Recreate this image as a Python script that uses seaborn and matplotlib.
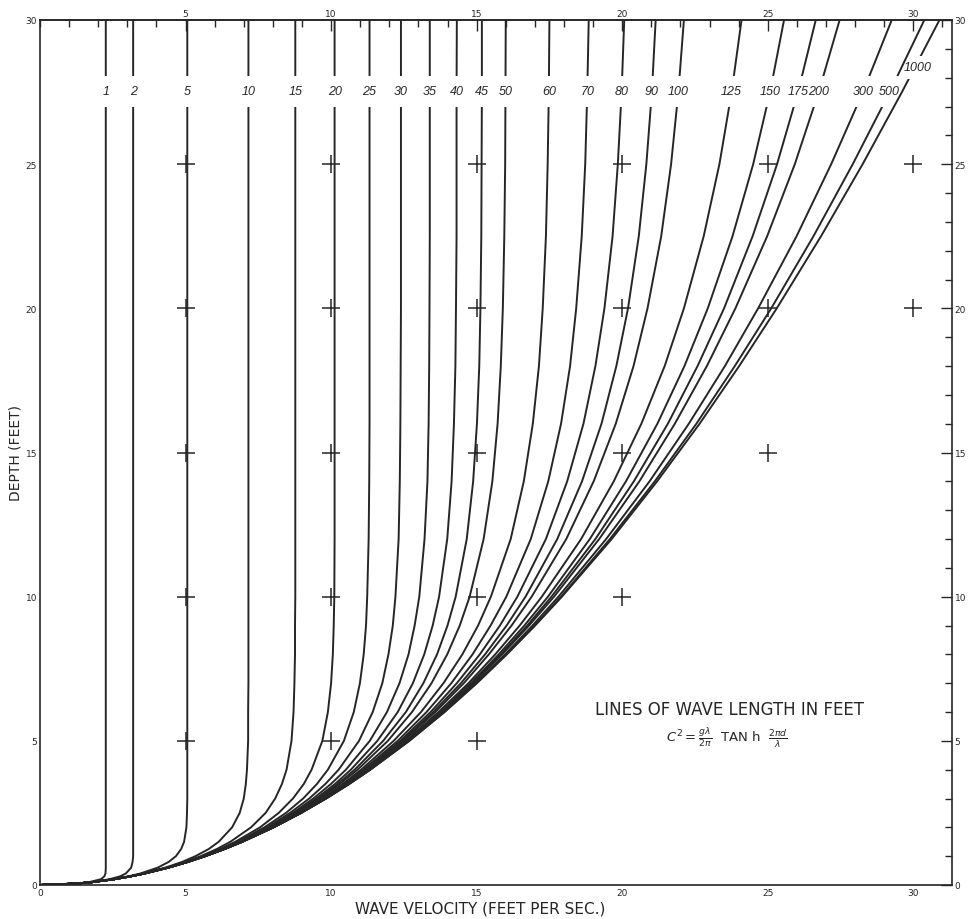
import numpy as np
import pandas as pd
import seaborn as sns
import matplotlib
matplotlib.use("Agg")
import matplotlib.pyplot as plt
from matplotlib.path import Path
from matplotlib.ticker import MultipleLocator

DEPTH = [0, 0.05, 0.1, 0.2, 0.3, 0.4, 0.6, 0.8, 1, 1.25, 1.5, 2, 2.5, 3, 3.5, 4,
         5, 6, 7, 8, 9, 10, 12, 14, 16, 18, 20, 22.5, 25, 27.5, 30]

WAVE_LENGTHS = [1, 2, 5, 10, 15, 20, 25, 30, 35, 40, 45, 50, 60, 70, 80, 90, 100,
                125, 150, 175, 200, 300, 500, 1000]

# wave velocity (ft/s), one row per wave length, one value per DEPTH
VELOCITY = [
    [0, 1.25, 1.69, 2.09, 2.21, 2.25, 2.26, 2.26, 2.26, 2.26, 2.26, 2.26, 2.26, 2.26, 2.26, 2.26,
     2.26, 2.26, 2.26, 2.26, 2.26, 2.26, 2.26, 2.26, 2.26, 2.26, 2.26, 2.26, 2.26, 2.26, 2.26],
    [0, 1.26, 1.77, 2.39, 2.75, 2.95, 3.13, 3.18, 3.20, 3.20, 3.20, 3.20, 3.20, 3.20, 3.20, 3.20,
     3.20, 3.20, 3.20, 3.20, 3.20, 3.20, 3.20, 3.20, 3.20, 3.20, 3.20, 3.20, 3.20, 3.20, 3.20],
    [0, 1.27, 1.79, 2.51, 3.04, 3.45, 4.04, 4.42, 4.67, 4.85, 4.95, 5.03, 5.05, 5.06, 5.06, 5.06,
     5.06, 5.06, 5.06, 5.06, 5.06, 5.06, 5.06, 5.06, 5.06, 5.06, 5.06, 5.06, 5.06, 5.06, 5.06],
    [0, 1.27, 1.79, 2.53, 3.09, 3.55, 4.30, 4.88, 5.34, 5.80, 6.14, 6.60, 6.86, 7.00, 7.07, 7.11,
     7.15, 7.15, 7.16, 7.16, 7.16, 7.16, 7.16, 7.16, 7.16, 7.16, 7.16, 7.16, 7.16, 7.16, 7.16],
    [0, 1.27, 1.79, 2.53, 3.10, 3.57, 4.35, 4.98, 5.52, 6.08, 6.54, 7.25, 7.75, 8.08, 8.31, 8.47,
     8.64, 8.71, 8.74, 8.76, 8.76, 8.77, 8.77, 8.77, 8.77, 8.77, 8.77, 8.77, 8.77, 8.77, 8.77],
    [0, 1.27, 1.79, 2.54, 3.10, 3.58, 4.37, 5.02, 5.58, 6.19, 6.71, 7.56, 8.20, 8.69, 9.06, 9.33,
     9.70, 9.89, 10.00, 10.06, 10.09, 10.11, 10.12, 10.12, 10.12, 10.12, 10.12, 10.12, 10.12, 10.12, 10.12],
    [0, 1.27, 1.79, 2.54, 3.11, 3.58, 4.38, 5.04, 5.62, 6.24, 6.79, 7.71, 8.45, 9.04, 9.51, 9.89,
     10.44, 10.78, 10.99, 11.12, 11.20, 11.24, 11.29, 11.31, 11.32, 11.32, 11.32, 11.32, 11.32, 11.32, 11.32],
    [0, 1.27, 1.79, 2.54, 3.11, 3.58, 4.38, 5.05, 5.63, 6.27, 6.84, 7.80, 8.59, 9.25, 9.80, 10.26,
     10.96, 11.43, 11.76, 11.97, 12.12, 12.21, 12.32, 12.36, 12.38, 12.39, 12.40, 12.40, 12.40, 12.40, 12.40],
    [0, 1.27, 1.79, 2.54, 3.11, 3.59, 4.39, 5.06, 5.64, 6.29, 6.87, 7.86, 8.69, 9.39, 9.99, 10.51,
     11.33, 11.92, 12.35, 12.66, 12.87, 13.03, 13.21, 13.31, 13.35, 13.37, 13.38, 13.39, 13.39, 13.39, 13.39],
    [0, 1.27, 1.79, 2.54, 3.11, 3.59, 4.39, 5.06, 5.65, 6.30, 6.89, 7.90, 8.75, 9.49, 10.13, 10.68,
     11.59, 12.29, 12.81, 13.20, 13.49, 13.71, 13.99, 14.14, 14.22, 14.27, 14.29, 14.31, 14.31, 14.31, 14.32],
    [0, 1.27, 1.79, 2.54, 3.11, 3.59, 4.39, 5.06, 5.66, 6.31, 6.90, 7.92, 8.80, 9.56, 10.22, 10.81,
     11.79, 12.57, 13.17, 13.64, 14.00, 14.28, 14.66, 14.88, 15.01, 15.09, 15.13, 15.16, 15.17, 15.18, 15.18],
    [0, 1.27, 1.79, 2.54, 3.11, 3.59, 4.39, 5.07, 5.66, 6.32, 6.91, 7.94, 8.83, 9.61, 10.29, 10.91,
     11.95, 12.78, 13.45, 13.99, 14.42, 14.76, 15.24, 15.54, 15.72, 15.83, 15.90, 15.95, 15.98, 15.99, 16.00],
    [0, 1.27, 1.79, 2.54, 3.11, 3.59, 4.39, 5.07, 5.66, 6.33, 6.92, 7.97, 8.87, 9.67, 10.39, 11.03,
     12.15, 13.09, 13.86, 14.51, 15.05, 15.49, 16.17, 16.62, 16.93, 17.14, 17.27, 17.38, 17.44, 17.48, 17.50],
    [0, 1.27, 1.79, 2.54, 3.11, 3.59, 4.39, 5.07, 5.67, 6.33, 6.93, 7.98, 8.90, 9.71, 10.45, 11.11,
     12.29, 13.28, 14.13, 14.86, 15.48, 16.02, 16.86, 17.46, 17.90, 18.21, 18.42, 18.61, 18.73, 18.80, 18.85],
    [0, 1.27, 1.79, 2.54, 3.11, 3.59, 4.39, 5.07, 5.67, 6.33, 6.93, 7.99, 8.92, 9.74, 10.49, 11.17,
     12.38, 13.42, 14.32, 15.11, 15.80, 16.40, 17.38, 18.11, 18.67, 19.08, 19.39, 19.67, 19.85, 19.98, 20.07],
    [0, 1.27, 1.79, 2.54, 3.11, 3.59, 4.39, 5.07, 5.67, 6.34, 6.94, 8.00, 8.93, 9.76, 10.51, 11.21,
     12.44, 13.51, 14.46, 15.29, 16.03, 16.68, 17.77, 18.62, 19.29, 19.80, 20.20, 20.57, 20.83, 21.02, 21.15],
    [0, 1.27, 1.79, 2.54, 3.11, 3.59, 4.39, 5.07, 5.67, 6.34, 6.94, 8.00, 8.94, 9.77, 10.53, 11.23,
     12.49, 13.58, 14.56, 15.42, 16.20, 16.89, 18.08, 19.02, 19.78, 20.39, 20.87, 21.34, 21.68, 21.93, 22.12],
    [0, 1.27, 1.79, 2.54, 3.11, 3.59, 4.39, 5.07, 5.67, 6.34, 6.94, 8.01, 8.95, 9.79, 10.56, 11.27,
     12.56, 13.69, 14.72, 15.64, 16.48, 17.24, 18.59, 19.71, 20.66, 21.46, 22.12, 22.80, 23.34, 23.76, 24.10],
    [0, 1.27, 1.79, 2.54, 3.11, 3.59, 4.39, 5.07, 5.67, 6.34, 6.95, 8.02, 8.96, 9.80, 10.58, 11.30,
     12.60, 13.76, 14.80, 15.76, 16.64, 17.45, 18.89, 20.13, 21.21, 22.14, 22.94, 23.79, 24.50, 25.08, 25.56],
    [0, 1.27, 1.79, 2.54, 3.11, 3.59, 4.40, 5.07, 5.67, 6.34, 6.95, 8.02, 8.96, 9.81, 10.59, 11.31,
     12.62, 13.79, 14.86, 15.83, 16.74, 17.57, 19.08, 20.40, 21.57, 22.59, 23.50, 24.48, 25.32, 26.04, 26.65],
    [0, 1.27, 1.79, 2.54, 3.11, 3.59, 4.40, 5.07, 5.67, 6.34, 6.95, 8.02, 8.96, 9.81, 10.59, 11.32,
     12.64, 13.82, 14.89, 15.88, 16.80, 17.66, 19.21, 20.59, 21.81, 22.91, 23.89, 24.98, 25.93, 26.75, 27.47],
    [0, 1.27, 1.79, 2.54, 3.11, 3.59, 4.40, 5.08, 5.67, 6.34, 6.95, 8.02, 8.97, 9.82, 10.61, 11.34,
     12.67, 13.86, 14.96, 15.98, 16.92, 17.81, 19.45, 20.94, 22.29, 23.53, 24.67, 25.99, 27.18, 28.27, 29.26],
    [0, 1.27, 1.79, 2.54, 3.11, 3.59, 4.40, 5.08, 5.67, 6.34, 6.95, 8.02, 8.97, 9.83, 10.61, 11.34,
     12.68, 13.89, 14.99, 16.02, 16.99, 17.90, 19.58, 21.12, 22.55, 23.87, 25.12, 26.57, 27.92, 29.19, 30.38],
    [0, 1.27, 1.79, 2.54, 3.11, 3.59, 4.40, 5.08, 5.67, 6.34, 6.95, 8.02, 8.97, 9.83, 10.62, 11.35,
     12.69, 13.90, 15.01, 16.04, 17.01, 17.93, 19.64, 21.20, 22.66, 24.02, 25.31, 26.83, 28.26, 29.61, 30.90],
]

# registration crosses printed on the chart
CROSS_X = [5, 5, 5, 5, 5, 10, 10, 10, 10, 10, 15, 15, 15, 15, 15,
           20, 20, 20, 20, 25, 25, 25, 30, 30]
CROSS_Y = [5, 10, 15, 20, 25, 5, 10, 15, 20, 25, 5, 10, 15, 20, 25,
           10, 15, 20, 25, 15, 20, 25, 20, 25]

records = []
for lam, vel in zip(WAVE_LENGTHS, VELOCITY):
    assert len(vel) == len(DEPTH), lam
    for d, c in zip(DEPTH, vel):
        records.append((lam, d, c))
df = pd.DataFrame(records, columns=["wave_length", "depth", "velocity"])
crosses = pd.DataFrame({"x": CROSS_X, "y": CROSS_Y})

sns.set_style("white")
plt.rcParams["font.family"] = ["DejaVu Sans"]
plt.rcParams["mathtext.fontset"] = "dejavusans"

INK = "#262626"

fig = plt.figure(figsize=(9.7, 9.2), dpi=100)
ax = fig.add_axes([40 / 970, 34 / 920, 912 / 970, 865 / 920])


def gap_clip(lo, hi):
    # everything except the horizontal strip lo..hi (room for the label)
    verts = [(-5, -5), (40, -5), (40, lo), (-5, lo), (-5, -5),
             (-5, hi), (40, hi), (40, 40), (-5, 40), (-5, hi)]
    codes = [Path.MOVETO, Path.LINETO, Path.LINETO, Path.LINETO, Path.CLOSEPOLY] * 2
    return Path(verts, codes)


label_font = dict(fontsize=9, style="italic", color=INK, ha="center", va="center",
                  family=["Liberation Sans", "DejaVu Sans"])
label_row = DEPTH.index(27.5)
for lam, vel in zip(WAVE_LENGTHS, VELOCITY):
    sub = df[df["wave_length"] == lam]
    sns.lineplot(data=sub, x="velocity", y="depth", sort=False, estimator=None,
                 color=INK, linewidth=1.4, ax=ax)
    line = ax.lines[-1]
    if lam == 1000:
        line.set_clip_path(gap_clip(27.95, 28.75), ax.transData)
        ax.text(30.15, 28.38, str(lam), **label_font)
    else:
        line.set_clip_path(gap_clip(27.0, 28.05), ax.transData)
        ax.text(vel[label_row], 27.53, str(lam), **label_font)

sns.scatterplot(data=crosses, x="x", y="y", marker="+", s=150, linewidth=1.1,
                color=INK, ax=ax, zorder=3)

ax.set_xlim(0, 31.33)
ax.set_ylim(0, 30)
ax.xaxis.set_major_locator(MultipleLocator(5))
ax.xaxis.set_minor_locator(MultipleLocator(1))
ax.yaxis.set_major_locator(MultipleLocator(5))
ax.yaxis.set_minor_locator(MultipleLocator(1))
ax.tick_params(which="both", direction="in", top=False, right=True, labelright=True,
               colors=INK, labelsize=6.5, width=1)
ax.tick_params(which="major", length=8, pad=2)
ax.tick_params(which="minor", length=5)

top = ax.secondary_xaxis("top")
top.set_xticks([5, 10, 15, 20, 25, 30])
top.xaxis.set_minor_locator(MultipleLocator(1))
top.tick_params(which="both", direction="in", colors=INK, labelsize=6.5, width=1)
top.tick_params(which="major", length=8, pad=1.5)
top.tick_params(which="minor", length=5)
top.spines["top"].set_linewidth(1.2)
top.spines["top"].set_color(INK)

for side in ax.spines.values():
    side.set_linewidth(1.2)
    side.set_color(INK)

ax.set_xlabel("WAVE VELOCITY (FEET PER SEC.)", fontsize=11, color=INK)
ax.xaxis.set_label_coords(0.4825, -0.018)
ax.set_ylabel("DEPTH (FEET)", fontsize=10, color=INK)
ax.yaxis.set_label_coords(-0.019, 0.5)

ax.text(23.7, 6.1, "LINES OF WAVE LENGTH IN FEET", fontsize=12, color=INK,
        ha="center", va="center")
ax.text(23.6, 5.15, r"$C^2 = \frac{g\lambda}{2\pi}$  TAN h  $\frac{2\pi d}{\lambda}$",
        fontsize=9.5, color=INK, ha="center", va="center")

fig.savefig("out.png", dpi=100)
